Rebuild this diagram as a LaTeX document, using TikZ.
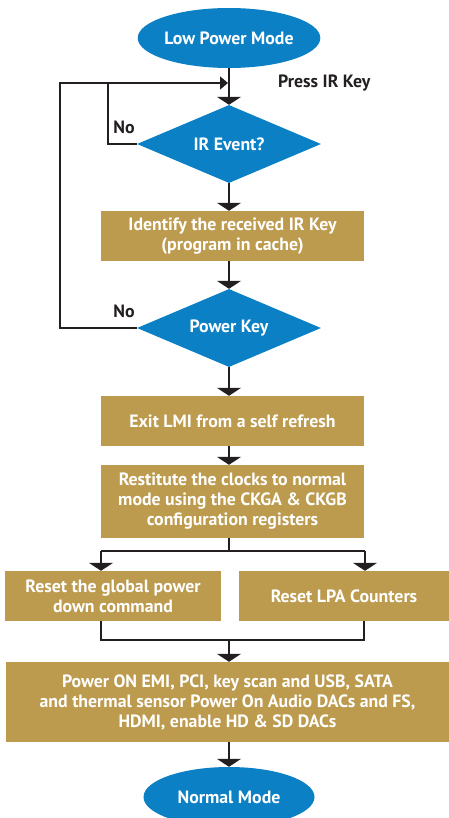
\documentclass[tikz,border=0pt]{standalone}
\usepackage{fontspec}
\setmainfont{PT Sans}
\usetikzlibrary{arrows.meta,shapes.geometric}
\definecolor{fblue}{HTML}{0B80C4}
\definecolor{fgold}{HTML}{BD9B4E}
\definecolor{fink}{HTML}{231F20}
\begin{document}
\begin{tikzpicture}[x=1pt,y=-1pt,
  font=\bfseries\fontsize{17.8}{20}\selectfont,
  term/.style={ellipse, fill=fblue, text=white, minimum width=171pt, minimum height=60pt, inner sep=0pt},
  dec/.style={diamond, fill=fblue, text=white, aspect=2.36, minimum width=184pt, minimum height=78pt, inner sep=0pt},
  procbox/.style={rectangle, fill=fgold, text=white, align=center, inner sep=0pt},
  lbl/.style={text=fink, inner sep=0pt},
  line/.style={line width=1.6pt, draw=fink},
  arr/.style={line, -{Triangle[width=24pt,length=8pt]}},
  sarr/.style={line, -{Triangle[width=13pt,length=8pt]}}
]
\useasboundingbox (0,0) rectangle (449,818);
\clip (0,0) rectangle (449,818);

\node[term] (lpm) at (229,38) {Low Power Mode};
\node[dec] (ir) at (229,144) {IR Event?};
\node[procbox, minimum width=263pt, minimum height=50pt] (id) at (232.5,236) {Identify the received IR Key\\(program in cache)};
\node[dec] (pk) at (229,328) {Power Key};
\node[procbox, minimum width=263pt, minimum height=50pt] (exit) at (232.5,421) {Exit LMI from a self refresh};
\node[procbox, minimum width=263pt, minimum height=73pt] (rest) at (232.5,501.5) {Restitute the clocks to normal\\mode using the CKGA \& CKGB\\configuration registers};
\node[procbox, minimum width=216pt, minimum height=50pt] (rg) at (113,596) {Reset the global power\\down command};
\node[procbox, minimum width=210pt, minimum height=50pt] (rl) at (344,596) {Reset LPA Counters};
\node[procbox, minimum width=443pt, minimum height=80pt] (pon) at (227.5,702) {Power ON EMI, PCI, key scan and USB, SATA\\and thermal sensor Power On Audio DACs and FS,\\HDMI, enable HD \& SD DACs};
\node[term] (nm) at (229,797) {Normal Mode};

\node[lbl, anchor=west] (press) at (278,83) {Press IR Key};
\node[lbl] (no1) at (124,127) {No};
\node[lbl] (no2) at (124,311) {No};

% main flow
\draw[arr] (lpm.south) -- (ir.north);
\draw[arr] (ir.south) -- (ir.south |- id.north);
\draw[arr] (ir.south |- id.south) -- (pk.north);
\draw[arr] (pk.south) -- (pk.south |- exit.north);
\draw[arr] (pk.south |- exit.south) -- (pk.south |- rest.north);

% loops
\coordinate (jn) at (228,83);
\coordinate (o1) at (60,328);
\coordinate (o2) at (60,83);
\coordinate (i1) at (108,144);
\coordinate (i2) at (108,83);
\draw[sarr] (pk.west) -- (o1) -- (o2) -- (jn);
\draw[line] (ir.west) -- (i1) -- (i2);

% branch
\coordinate (b0) at (229,551);
\coordinate (bl) at (101,551);
\coordinate (br) at (365,551);
\draw[line] (pk.south |- rest.south) -- (b0);
\draw[line] (bl) -- (br);
\draw[arr] (bl) -- (bl |- rg.north);
\draw[arr] (br) -- (br |- rl.north);

% merge
\coordinate (ml) at (101,640);
\coordinate (mr) at (364,640);
\coordinate (m0) at (229,640);
\draw[line] (ml |- rg.south) -- (ml) -- (mr) -- (mr |- rl.south);
\draw[arr] (m0) -- (m0 |- pon.north);
\draw[arr] (pk.south |- pon.south) -- (nm.north);
\end{tikzpicture}
\end{document}
